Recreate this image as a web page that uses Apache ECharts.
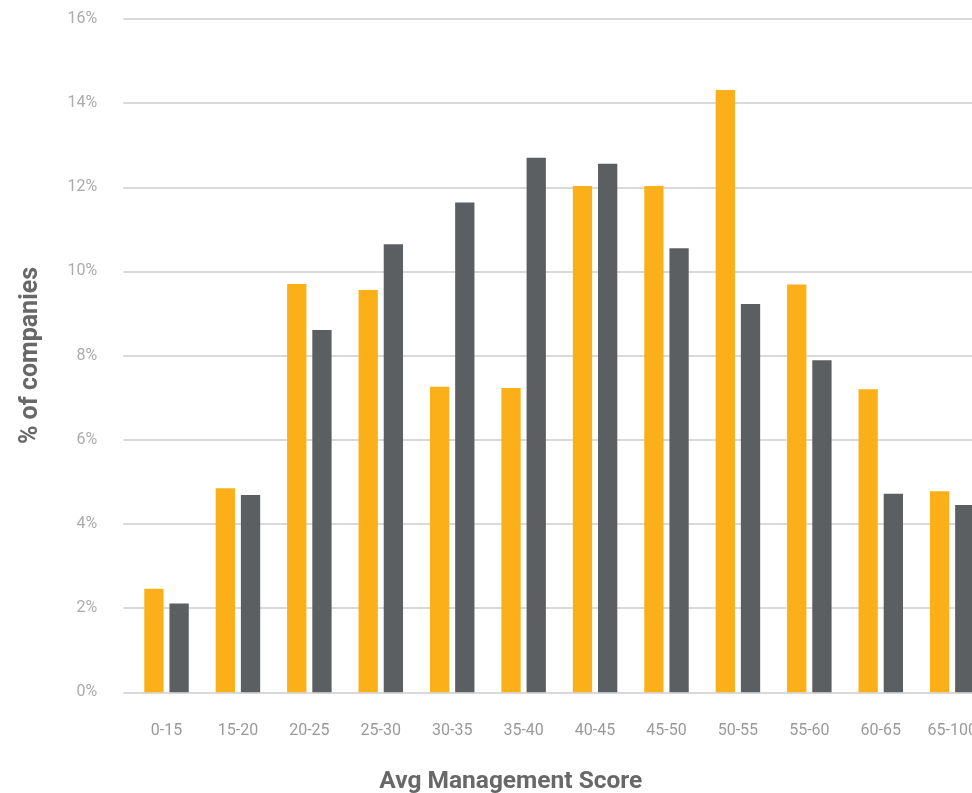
<!DOCTYPE html>
<html>
<head>
<meta charset="utf-8">
<title>Avg Management Score distribution</title>
<script src="https://cdn.jsdelivr.net/npm/echarts@6/dist/echarts.min.js"></script>
<style>
  html, body { margin: 0; padding: 0; background: #ffffff; }
  #chart { width: 972px; height: 793px; }
</style>
</head>
<body>
<div id="chart"></div>
<script>
// Score bands on the x axis
const categories = ['0-15', '15-20', '20-25', '25-30', '30-35', '35-40',
                    '40-45', '45-50', '50-55', '55-60', '60-65', '65-100'];

// Share of companies (%) in each band, two groups
const seriesA = [2.46, 4.85, 9.70, 9.56, 7.26, 7.23, 12.03, 12.03, 14.31, 9.69, 7.20, 4.78];
const seriesB = [2.11, 4.69, 8.61, 10.65, 11.64, 12.70, 12.56, 10.55, 9.23, 7.89, 4.72, 4.45];

// Value axis range and step
const yMin = 0;
const yMax = 16;
const yStep = 2;

const xTitle = 'Avg Management Score';
const yTitle = '% of companies';

const chart = echarts.init(document.getElementById('chart'), null, { renderer: 'canvas' });

const FONT = 'Roboto, "Noto Sans", sans-serif';
const plotTop = 19;
const plotBottom = 100.7;

chart.setOption({
  animation: false,
  backgroundColor: '#ffffff',
  grid: [
    // gridlines and value labels
    { left: 123.3, right: 0, top: plotTop, bottom: plotBottom, outerBoundsMode: 'none' },
    // bars: the last band runs past the right edge of the canvas
    { left: 130.8, width: 857.1, top: plotTop, bottom: plotBottom, outerBoundsMode: 'none' }
  ],
  xAxis: [
    { gridIndex: 0, type: 'value', show: false, min: 0, max: 1 },
    {
      gridIndex: 1,
      type: 'category',
      data: categories,
      boundaryGap: true,
      axisLine: { show: false },
      axisTick: { show: false },
      axisLabel: {
        margin: 31,
        color: '#9a9a9a',
        fontFamily: FONT,
        fontSize: 16,
        interval: 0,
        hideOverlap: false
      }
    }
  ],
  yAxis: [
    {
      gridIndex: 0,
      type: 'value',
      min: yMin,
      max: yMax,
      interval: yStep,
      axisLine: { show: false },
      axisTick: { show: false },
      axisLabel: {
        margin: 26,
        color: '#ababab',
        fontFamily: FONT,
        fontSize: 16,
        formatter: '{value}%'
      },
      splitLine: { show: true, lineStyle: { color: '#cccccc', width: 1.6 } }
    },
    {
      gridIndex: 1,
      type: 'value',
      min: yMin,
      max: yMax,
      interval: yStep,
      show: false,
      splitLine: { show: false }
    }
  ],
  series: [
    {
      type: 'bar',
      xAxisIndex: 1,
      yAxisIndex: 1,
      data: seriesA,
      barWidth: 19.3,
      barGap: '30.5%',
      itemStyle: { color: '#fbb019' }
    },
    {
      type: 'bar',
      xAxisIndex: 1,
      yAxisIndex: 1,
      data: seriesB,
      barWidth: 19.3,
      barGap: '30.5%',
      itemStyle: { color: '#5b5f62' }
    }
  ],
  graphic: [
    {
      type: 'text',
      x: 510.8,
      y: 781.5,
      style: {
        text: xTitle,
        fill: '#686868',
        font: 'bold 24.5px ' + FONT,
        textAlign: 'center',
        textVerticalAlign: 'middle'
      }
    },
    {
      type: 'text',
      x: 31,
      y: 355.5,
      rotation: Math.PI / 2,
      style: {
        text: yTitle,
        fill: '#686868',
        font: 'bold 25px ' + FONT,
        textAlign: 'center',
        textVerticalAlign: 'middle'
      }
    }
  ]
});
</script>
</body>
</html>
